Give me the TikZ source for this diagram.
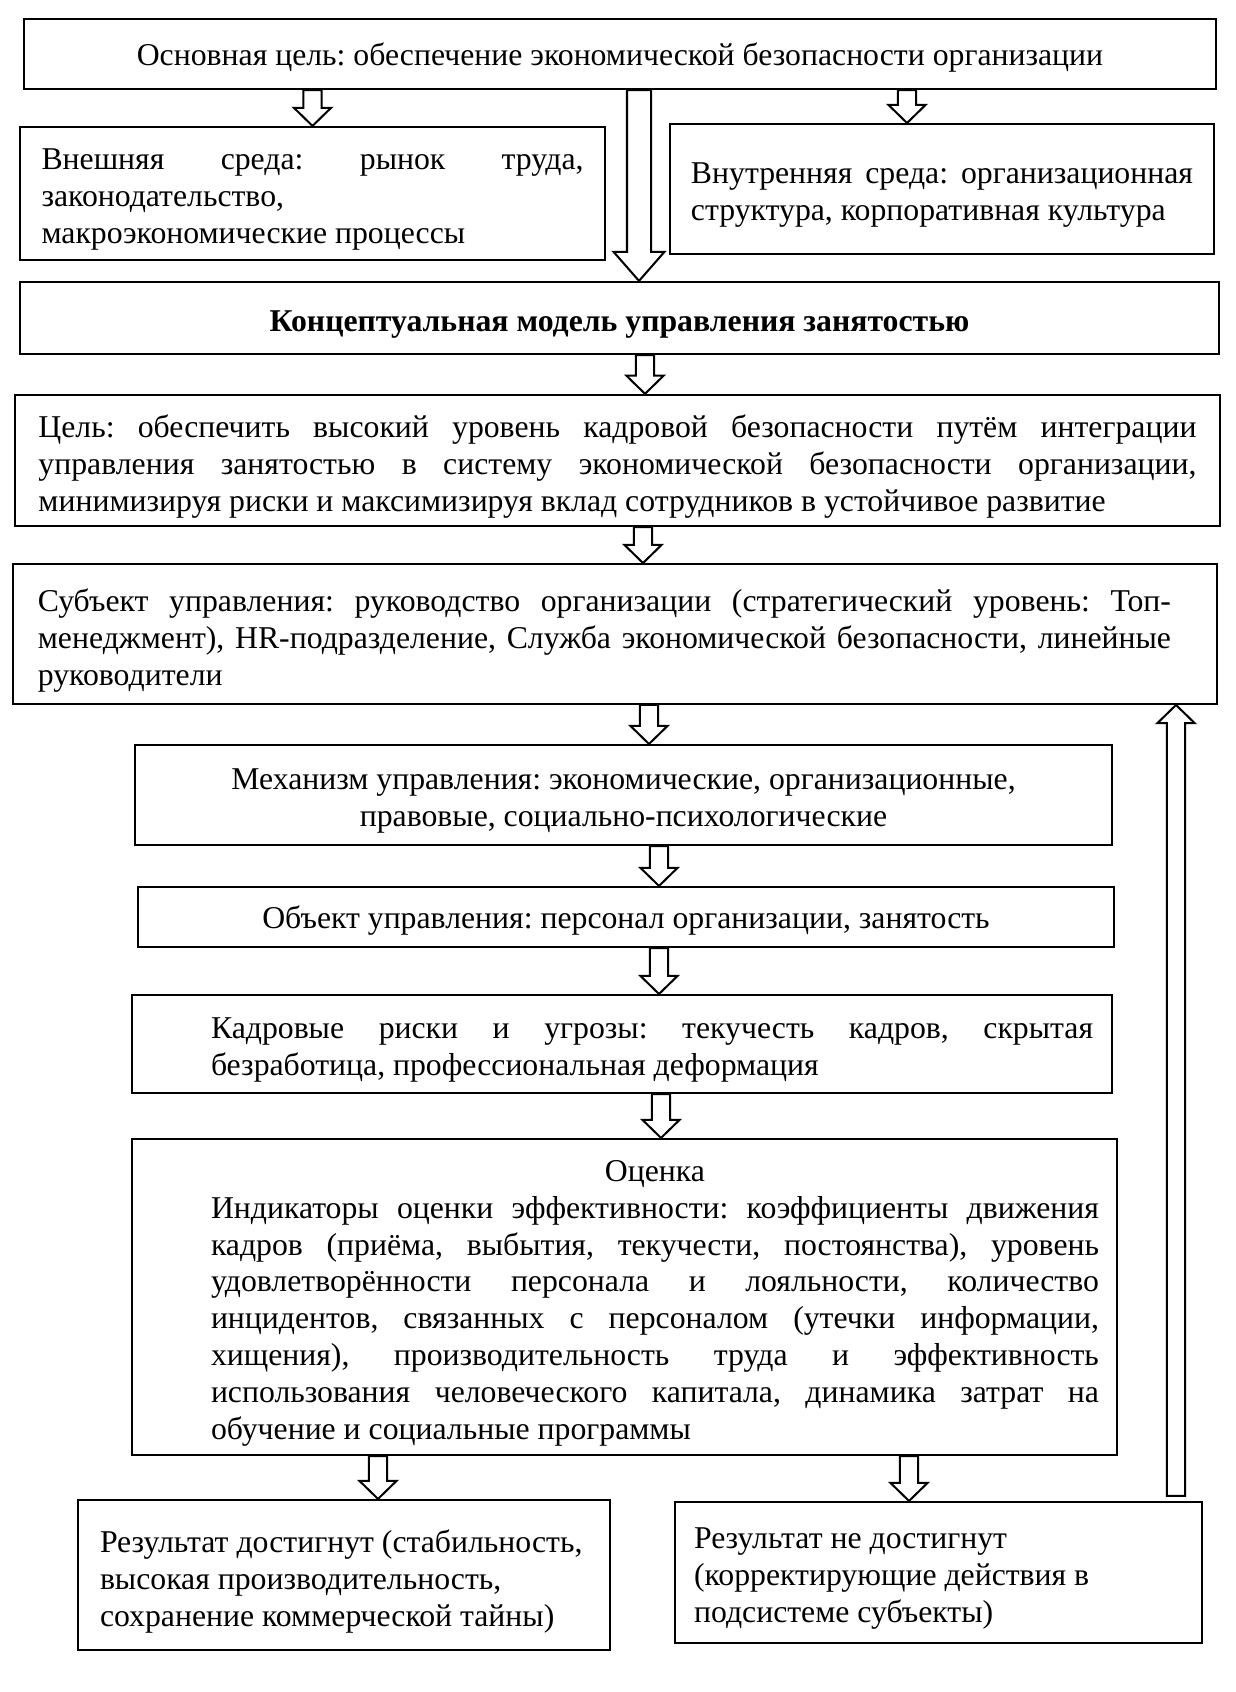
\documentclass[tikz,border=0pt]{standalone}
\usepackage{fontspec}
\setmainfont{Liberation Serif}
\usepackage{tikz}
\usetikzlibrary{calc}
\setlength{\parindent}{0pt}
\frenchspacing
\newcommand{\boxfont}{\fontsize{14pt}{16.3pt}\selectfont}
% text block of a box, pushed down a little as in Word
\newcommand{\boxtext}[3][5.6pt]{\parbox{#2}{\vspace*{#1}#3}}

\begin{document}
\begin{tikzpicture}[
    x=0.441pt, y=-0.441pt,
    every node/.style={font=\boxfont},
    box/.style ={draw, line width=0.9pt},
    pbox/.style={box, inner xsep=0pt},
    blk/.style ={draw, line width=0.9pt, fill=white,
        /utils/exec={\def\blksw{4pt}\def\blkhw{8.2pt}\def\blkhl{8pt}},
        to path={let \p1=(\tikztostart), \p2=(\tikztotarget), \n1={sign(\y1-\y2)} in
          (\x1-\blksw,\y1) -- (\x1-\blksw,\y2+\n1*\blkhl) -- (\x1-\blkhw,\y2+\n1*\blkhl)
          -- (\x1,\y2) -- (\x1+\blkhw,\y2+\n1*\blkhl) -- (\x1+\blksw,\y2+\n1*\blkhl)
          -- (\x1+\blksw,\y1) -- cycle}},
    blkbig/.style={blk, /utils/exec={\def\blksw{5.3pt}\def\blkhw{11.2pt}\def\blkhl{12.8pt}}}
]
\useasboundingbox (0,0) rectangle (1235,1692);
% Top -- main goal and environment
\node[box, minimum width=525.7pt, minimum height=30.9pt] (maingoal) at (620,54)
    {\boxtext[3pt]{510pt}{\centering Основная цель: обеспечение экономической безопасности организации}};
\node[box, minimum width=258pt, minimum height=58.7pt] (extenv) at (312.5,193.5)
    {\boxtext{239pt}{Внешняя среда: рынок труда,\linebreak законодательство,\linebreak макроэкономические процессы}};
\node[box, minimum width=239.9pt, minimum height=57.3pt] (intenv) at (942,189)
    {\boxtext{221.4pt}{Внутренняя среда: организационная\linebreak структура, корпоративная культура}};
\node[box, minimum width=528.8pt, minimum height=31.8pt, font=\boxfont\bfseries] (concept) at (619.5,318)
    {\boxtext{510pt}{\centering Концептуальная модель управления занятостью}};
% Model -- goal, subject, mechanism, object
\node[box, minimum width=531.4pt, minimum height=57.8pt] (goal) at (617.5,460.5)
    {\boxtext{510.7pt}{Цель: обеспечить высокий уровень кадровой безопасности путём интеграции\linebreak
     управления занятостью в систему экономической безопасности организации,\linebreak
     минимизируя риски и максимизируя вклад сотрудников в устойчивое развитие}};
\node[box, minimum width=531pt, minimum height=61.7pt] (subj) at (615,634)
    {\boxtext{499.7pt}{Субъект управления: руководство организации (стратегический уровень: Топ-\linebreak
     менеджмент), HR-подразделение, Служба экономической безопасности, линейные\linebreak
     руководители}\hspace*{9.3pt}};
\node[box, minimum width=430.9pt, minimum height=44.1pt] (mech) at (623.5,795)
    {\boxtext{420pt}{\centering Механизм управления: экономические, организационные,\\правовые, социально-психологические}};
\node[box, minimum width=430.4pt, minimum height=26.5pt] (obj) at (626,917)
    {\boxtext[3pt]{420pt}{\centering Объект управления: персонал организации, занятость}};
% Risks and evaluation
\node[box, minimum width=432.2pt, minimum height=43.2pt] (risk) at (622,1044)
    {\hspace*{26.5pt}\boxtext{389pt}{Кадровые риски и угрозы: текучесть кадров, скрытая\linebreak
     безработица, профессиональная деформация}};
\node[box, minimum width=434.4pt, minimum height=139.4pt] (eval) at (624.5,1297)
    {\hspace*{26.9pt}\boxtext{391.6pt}{\centerline{Оценка}
     Индикаторы оценки эффективности: коэффициенты движения\linebreak
     кадров (приёма, выбытия, текучести, постоянства), уровень\linebreak
     удовлетворённости персонала и лояльности, количество\linebreak
     инцидентов, связанных с персоналом (утечки информации,\linebreak
     хищения), производительность труда и эффективность\linebreak
     использования человеческого капитала, динамика затрат на\linebreak
     обучение и социальные программы}};
% Results
\node[pbox, minimum width=234.6pt, minimum height=66.2pt] (done) at (344,1575)
    {\hspace*{9.7pt}\boxtext{224.9pt}{\raggedright Результат достигнут (стабильность,\\
     высокая производительность,\\сохранение коммерческой тайны)}};
\node[pbox, minimum width=232.4pt, minimum height=62.2pt] (notdone) at (938.5,1572.5)
    {\hspace*{8.4pt}\boxtext{224pt}{\raggedright Результат не достигнут\\
     (корректирующие действия в\\подсистеме субъекты)}};
% Block arrows
\draw[blk] (extenv.north |- maingoal.south) to (extenv.north);
\draw[blk] ($(intenv.north |- maingoal.south)+(-35,0)$) to ($(intenv.north)+(-35,0)$);
\draw[blkbig] ($(maingoal.south)+(19,0)$) to ($(concept.north)+(19.5,0)$);
\draw[blk] ($(concept.south)+(25.5,0)$) to ($(goal.north)+(27.5,0)$);
\draw[blk] ($(goal.south)+(25.5,0)$) to ($(subj.north)+(28,0)$);
\draw[blk] ($(subj.south)+(34,0)$) to ($(mech.north)+(25.5,0)$);
\draw[blk] ($(mech.south)+(35.5,0)$) to ($(obj.north)+(33,0)$);
\draw[blk] ($(obj.south)+(33,0)$) to ($(risk.north)+(37,0)$);
\draw[blk] ($(risk.south)+(39,0)$) to ($(eval.north)+(36.5,0)$);
\draw[blk] ($(eval.south)+(-246.5,0)$) to ($(done.north)+(34,0)$);
\draw[blk] ($(eval.south)+(284.5,0)$) to ($(notdone.north)+(-29.5,0)$);
% Feedback to subject
\draw[blk] ($(notdone.north east)+(-27,-5)$) to ($(subj.south east)+(-42,0)$);
\end{tikzpicture}
\end{document}
